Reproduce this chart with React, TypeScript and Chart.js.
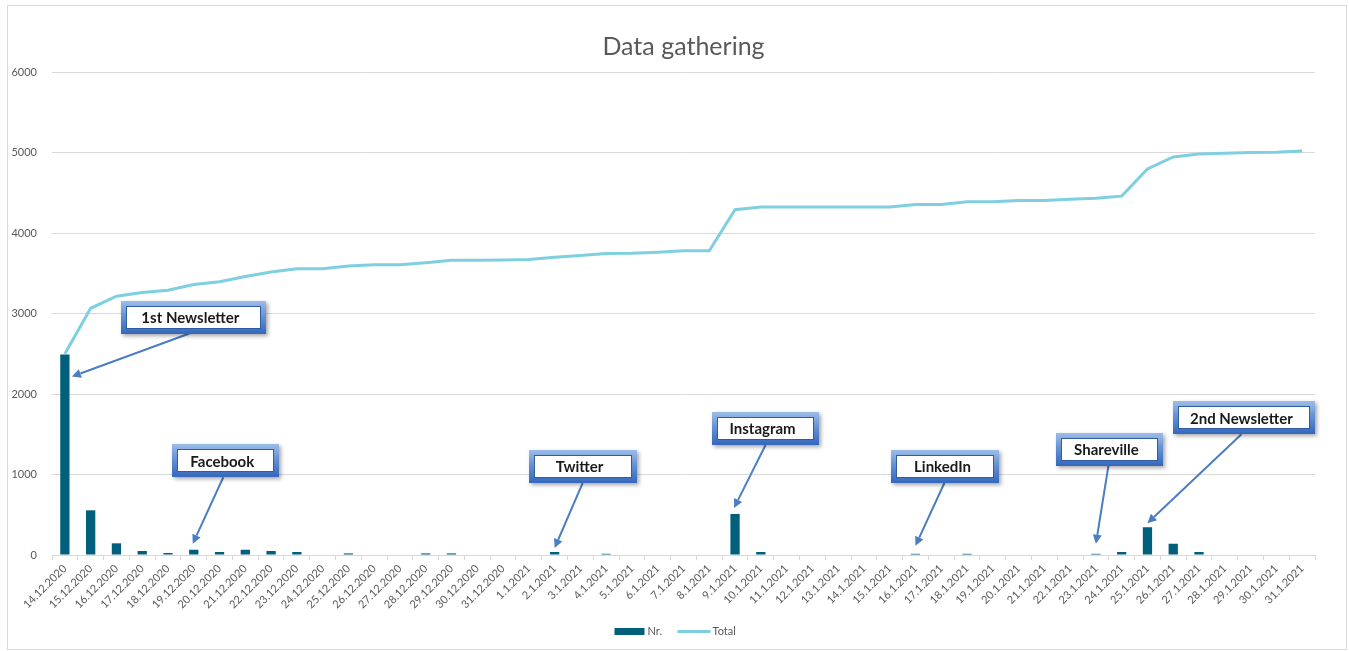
import React, { useEffect, useRef } from 'react';
import { Chart, registerables } from 'chart.js';

Chart.register(...registerables);

const categories = [
  '14.12.2020', '15.12.2020', '16.12.2020', '17.12.2020', '18.12.2020', '19.12.2020', '20.12.2020',
  '21.12.2020', '22.12.2020', '23.12.2020', '24.12.2020', '25.12.2020', '26.12.2020', '27.12.2020',
  '28.12.2020', '29.12.2020', '30.12.2020', '31.12.2020',
  '1.1.2021', '2.1.2021', '3.1.2021', '4.1.2021', '5.1.2021', '6.1.2021', '7.1.2021', '8.1.2021',
  '9.1.2021', '10.1.2021', '11.1.2021', '12.1.2021', '13.1.2021', '14.1.2021', '15.1.2021',
  '16.1.2021', '17.1.2021', '18.1.2021', '19.1.2021', '20.1.2021', '21.1.2021', '22.1.2021',
  '23.1.2021', '24.1.2021', '25.1.2021', '26.1.2021', '27.1.2021', '28.1.2021', '29.1.2021',
  '30.1.2021', '31.1.2021',
];

const nrValues = [
  2490, 555, 145, 50, 25, 65, 37, 65, 50, 37, 0, 20, 0, 0, 20, 20, 0, 0,
  0, 37, 0, 15, 0, 0, 0, 0, 510, 37, 0, 0, 0, 0, 0, 15, 0, 15, 0, 0, 0, 0,
  15, 37, 345, 140, 37, 0, 0, 0, 0,
];

const totalValues = [
  2500, 3065, 3215, 3260, 3290, 3360, 3395, 3460, 3515, 3555, 3555, 3590, 3605, 3605, 3630, 3660, 3660, 3665,
  3670, 3700, 3720, 3745, 3748, 3762, 3778, 3778, 4290, 4322, 4322, 4322, 4322, 4322, 4322, 4355, 4355, 4388,
  4388, 4403, 4403, 4418, 4433, 4458, 4795, 4945, 4980, 4990, 5000, 5003, 5018,
];

const yMin = 0;
const yMax = 6000;
const yStep = 1000;

const seriesNames = ['Nr.', 'Total'];
const chartTitle = 'Data gathering';

const annotationLabels = ['1st Newsletter', 'Facebook', 'Twitter', 'Instagram', 'LinkedIn', 'Shareville', '2nd Newsletter'];
const annotationDates = ['14.12.2020', '19.12.2020', '2.1.2021', '9.1.2021', '16.1.2021', '23.1.2021', '25.1.2021'];

// Layout of callouts relative to the annotated bar (pixels)
const annotationLayout = [
  { tipDx: 7, tipDy: 22, boxDx: 128.5, boxDy: -37.5, w: 145, h: 33, tailDx: -4 },
  { tipDx: -1, tipDy: -6, boxDx: 31.5, boxDy: -89, w: 107, h: 33, tailDx: -2 },
  { tipDx: 0, tipDy: -4, boxDx: 28, boxDy: -85.5, w: 108, h: 33, tailDx: 0 },
  { tipDx: -1, tipDy: -6, boxDx: 30.5, boxDy: -85.5, w: 107, h: 33, tailDx: 0 },
  { tipDx: 0, tipDy: -8, boxDx: 30, boxDy: -87.5, w: 108, h: 33, tailDx: -1 },
  { tipDx: 0, tipDy: -10, boxDx: 13.5, boxDy: -104.5, w: 107, h: 33, tailDx: -1 },
  { tipDx: 0, tipDy: -4, boxDx: 97, boxDy: -109.5, w: 142, h: 33, tailDx: -3 },
];

const BAR_COLOR = '#005f7b';
const LINE_COLOR = '#7ecfe0';
const TEXT_COLOR = '#595959';
const GRID_COLOR = '#d9d9d9';
const FONT = 'Lato, "Open Sans", sans-serif';

function drawArrow(ctx: CanvasRenderingContext2D, x1: number, y1: number, x2: number, y2: number) {
  const ang = Math.atan2(y2 - y1, x2 - x1);
  const headLen = 9;
  const headW = 4.5;
  const bx = x2 - Math.cos(ang) * headLen;
  const by = y2 - Math.sin(ang) * headLen;
  ctx.save();
  ctx.strokeStyle = '#4a7dc4';
  ctx.fillStyle = '#4a7dc4';
  ctx.lineWidth = 2;
  ctx.beginPath();
  ctx.moveTo(x1, y1);
  ctx.lineTo(bx, by);
  ctx.stroke();
  ctx.beginPath();
  ctx.moveTo(x2, y2);
  ctx.lineTo(bx + Math.sin(ang) * headW, by - Math.cos(ang) * headW);
  ctx.lineTo(bx - Math.sin(ang) * headW, by + Math.cos(ang) * headW);
  ctx.closePath();
  ctx.fill();
  ctx.restore();
}

function drawBox(ctx: CanvasRenderingContext2D, cx: number, cy: number, w: number, h: number, text: string) {
  const x = Math.round(cx - w / 2);
  const y = Math.round(cy - h / 2);
  ctx.save();
  ctx.shadowColor = 'rgba(0,0,0,0.35)';
  ctx.shadowBlur = 4;
  ctx.shadowOffsetX = 2;
  ctx.shadowOffsetY = 2;
  const g = ctx.createLinearGradient(0, y, 0, y + h);
  g.addColorStop(0, '#9dbde8');
  g.addColorStop(0.45, '#6592d6');
  g.addColorStop(1, '#3468bd');
  ctx.fillStyle = g;
  ctx.fillRect(x, y, w, h);
  ctx.restore();
  ctx.save();
  ctx.fillStyle = '#ffffff';
  ctx.fillRect(x + 5, y + 5, w - 10, h - 10);
  ctx.strokeStyle = '#2f5d9f';
  ctx.lineWidth = 1;
  ctx.strokeRect(x + 5.5, y + 5.5, w - 11, h - 11);
  ctx.fillStyle = '#1a1a1a';
  ctx.font = `bold 15px ${FONT}`;
  ctx.textAlign = 'center';
  ctx.textBaseline = 'middle';
  ctx.fillText(text, cx - 3, cy + 1);
  ctx.restore();
}

const overlayPlugin = {
  id: 'overlay',
  afterDatasetsDraw(chart: any) {
    const ctx: CanvasRenderingContext2D = chart.ctx;
    const xs = chart.scales.x;
    const ys = chart.scales.y;
    annotationLabels.forEach((label, i) => {
      const idx = categories.indexOf(annotationDates[i]);
      if (idx < 0) return;
      const L = annotationLayout[i];
      const bx = xs.getPixelForValue(idx);
      const by = ys.getPixelForValue(nrValues[idx]);
      const tipX = bx + L.tipDx;
      const tipY = by + L.tipDy;
      const cx = bx + L.boxDx;
      const cy = by + L.boxDy;
      drawArrow(ctx, cx + L.tailDx, cy + L.h / 2, tipX, tipY);
      drawBox(ctx, cx, cy, L.w, L.h, label);
    });
  },
  afterDraw(chart: any) {
    const ctx: CanvasRenderingContext2D = chart.ctx;
    const area = chart.chartArea;
    const mid = (area.left + area.right) / 2;
    ctx.save();
    // Title
    ctx.fillStyle = TEXT_COLOR;
    ctx.font = `25px ${FONT}`;
    ctx.textAlign = 'center';
    ctx.textBaseline = 'middle';
    ctx.fillText(chartTitle, mid, 41);
    // Legend
    const lc = mid - 6;
    const ly = 625.5;
    ctx.fillStyle = BAR_COLOR;
    ctx.fillRect(lc - 63, ly - 3.5, 30, 7);
    ctx.fillStyle = TEXT_COLOR;
    ctx.font = `11px ${FONT}`;
    ctx.textAlign = 'left';
    ctx.fillText(seriesNames[0], lc - 30, ly);
    ctx.strokeStyle = LINE_COLOR;
    ctx.lineWidth = 3;
    ctx.beginPath();
    ctx.moveTo(lc, ly);
    ctx.lineTo(lc + 33, ly);
    ctx.stroke();
    ctx.fillText(seriesNames[1], lc + 35, ly);
    ctx.restore();
  },
};

export default function App() {
  const ref = useRef<HTMLCanvasElement>(null);

  useEffect(() => {
    if (!ref.current) return;
    const chart = new Chart(ref.current, {
      type: 'bar',
      data: {
        labels: categories,
        datasets: [
          {
            type: 'line',
            label: seriesNames[1],
            data: totalValues,
            borderColor: LINE_COLOR,
            backgroundColor: LINE_COLOR,
            borderWidth: 3,
            pointRadius: 0,
            tension: 0,
            order: 0,
          } as any,
          {
            type: 'bar',
            label: seriesNames[0],
            data: nrValues,
            backgroundColor: BAR_COLOR,
            categoryPercentage: 1,
            barPercentage: 0.36,
            order: 1,
          },
        ],
      },
      options: {
        responsive: false,
        animation: false,
        layout: { padding: { top: 66, right: 31, bottom: 24, left: 0 } },
        plugins: {
          legend: { display: false },
          title: { display: false },
          tooltip: { enabled: false },
        },
        scales: {
          x: {
            offset: true,
            grid: {
              display: true,
              drawOnChartArea: false,
              drawTicks: true,
              tickLength: 5,
              color: GRID_COLOR,
              offset: true,
            },
            border: { display: true, color: GRID_COLOR, width: 1 },
            ticks: {
              autoSkip: false,
              minRotation: 45,
              maxRotation: 45,
              padding: 2,
              color: TEXT_COLOR,
              font: { family: FONT, size: 11 },
            },
            afterFit: (s: any) => {
              s.height = 70;
            },
          },
          y: {
            min: yMin,
            max: yMax,
            grid: { color: GRID_COLOR, drawTicks: false, lineWidth: 1 },
            border: { display: false },
            ticks: {
              stepSize: yStep,
              padding: 15,
              color: TEXT_COLOR,
              font: { family: FONT, size: 11 },
              callback: (v: any) => String(v),
            },
            afterFit: (s: any) => {
              s.width = 44;
            },
          },
        },
      },
      plugins: [overlayPlugin],
    });
    return () => chart.destroy();
  }, []);

  return (
    <div
      style={{
        position: 'absolute',
        left: 7,
        top: 5,
        width: 1338,
        height: 643,
        border: '1px solid #d9d9d9',
        background: '#ffffff',
      }}
    >
      <canvas ref={ref} width={1338} height={643} style={{ display: 'block' }} />
    </div>
  );
}
